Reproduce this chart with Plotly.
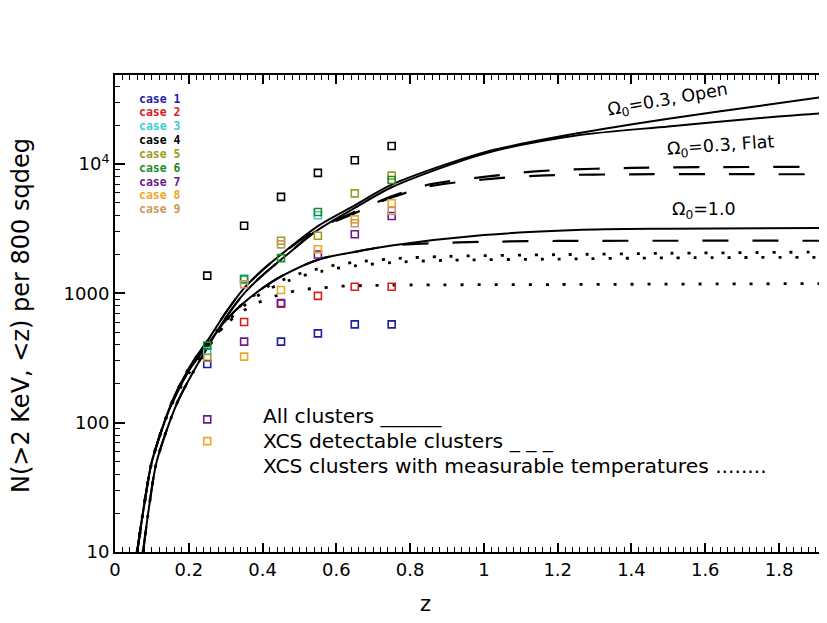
import numpy as np
from plotly import graph_objects as go

# redshift bins of the simulated XCS cases
z_bins = [0.25, 0.35, 0.45, 0.55, 0.65, 0.75]

case_names = ["case 1", "case 2", "case 3", "case 4", "case 5",
              "case 6", "case 7", "case 8", "case 9"]
case_colors = ["#1c1ca8", "#d42020", "#38d0d0", "#000000", "#a09a20",
               "#1e8a2a", "#6a1a8e", "#f0a428", "#c89860"]

case_1 = [284, None, 423, 490, 575, 575]
case_2 = [None, 600, 830, 955, 1125, 1125]
case_3 = [358, 1300, None, 4010, None, None]
case_4 = [1370, 3330, 5570, 8530, 10700, 13780]
case_5 = [318, None, 2550, 2790, 5930, 8130]
case_6 = [394, 1280, 1870, 4250, None, 7520]
case_7 = [106, 423, 841, 1995, 2860, 3960]
case_8 = [72, 324, 1060, 2190, 3730, 4970]
case_9 = [None, 1175, 2390, None, 3480, 4330]
cases = [case_1, case_2, case_3, case_4, case_5, case_6, case_7, case_8, case_9]

# all clusters (solid)
z_all_open = [0.06, 0.08, 0.1, 0.15, 0.2, 0.25, 0.3, 0.35, 0.4, 0.45, 0.55, 0.65, 0.75, 1.0, 1.25, 1.5, 1.75, 1.95]
n_all_open = [10, 24, 50, 135, 263, 427, 708, 1096, 1514, 1995, 3310, 4790, 6920, 12300, 17200, 22400, 28200, 33900]
z_all_flat = [0.076, 0.09, 0.113, 0.165, 0.2, 0.25, 0.3, 0.35, 0.4, 0.45, 0.55, 0.65, 0.75, 1.0, 1.25, 1.5, 1.75, 1.95]
n_all_flat = [10, 20, 50, 135, 214, 380, 646, 1000, 1380, 1820, 3090, 4570, 6610, 12000, 16600, 19500, 22700, 25100]
z_all_ein = [0.06, 0.08, 0.1, 0.15, 0.2, 0.25, 0.3, 0.35, 0.4, 0.45, 0.55, 0.65, 0.75, 1.0, 1.25, 1.5, 1.95]
n_all_ein = [10, 24, 50, 132, 251, 398, 617, 851, 1096, 1350, 1820, 2090, 2340, 2820, 3090, 3160, 3200]

# XCS detectable clusters (dashed)
z_det_open = [0.06, 0.08, 0.1, 0.15, 0.2, 0.25, 0.3, 0.35, 0.4, 0.45, 0.55, 0.65, 0.75, 0.85, 1.0, 1.15, 1.4, 1.95]
n_det_open = [10, 24, 50, 135, 263, 427, 708, 1096, 1514, 1995, 3160, 4270, 5620, 6920, 7940, 8810, 9330, 9500]
z_det_flat = [0.076, 0.09, 0.113, 0.165, 0.2, 0.25, 0.3, 0.35, 0.4, 0.45, 0.55, 0.65, 0.75, 0.85, 1.0, 1.15, 1.4, 1.95]
n_det_flat = [10, 20, 50, 135, 214, 380, 646, 1000, 1380, 1820, 3100, 4170, 5500, 6700, 7590, 8130, 8320, 8320]
z_det_ein = [0.06, 0.08, 0.1, 0.15, 0.2, 0.25, 0.3, 0.35, 0.4, 0.45, 0.55, 0.65, 0.75, 0.85, 1.0, 1.2, 1.95]
n_det_ein = [10, 24, 50, 132, 251, 398, 617, 851, 1096, 1350, 1820, 2090, 2340, 2430, 2500, 2540, 2550]

# XCS clusters with measurable temperatures (dotted)
z_tem_open = [0.06, 0.08, 0.1, 0.15, 0.2, 0.25, 0.3, 0.34, 0.38, 0.42, 0.47, 0.51, 0.56, 0.6, 0.65, 0.75, 0.9, 1.2, 1.5, 1.95]
n_tem_open = [10, 24, 50, 135, 263, 420, 610, 800, 980, 1150, 1320, 1450, 1570, 1660, 1740, 1850, 1930, 1990, 2040, 2090]
z_tem_flat = [0.076, 0.09, 0.113, 0.165, 0.2, 0.25, 0.3, 0.34, 0.38, 0.42, 0.47, 0.51, 0.56, 0.6, 0.65, 0.75, 0.9, 1.2, 1.5, 1.95]
n_tem_flat = [10, 20, 50, 135, 214, 370, 580, 760, 930, 1090, 1250, 1370, 1480, 1560, 1630, 1730, 1800, 1840, 1880, 1900]
z_tem_ein = [0.06, 0.08, 0.1, 0.15, 0.2, 0.25, 0.285, 0.325, 0.37, 0.415, 0.46, 0.51, 0.56, 0.6, 0.7, 0.8, 1.2, 1.95]
n_tem_ein = [10, 24, 50, 130, 240, 390, 520, 660, 800, 912, 1000, 1070, 1100, 1130, 1150, 1160, 1170, 1190]

text_font = "DejaVu Sans"

# the page body adds an 8 px margin, so the figure starts at (8, 8) in the window
OFF = 8
W, H = 827 - OFF, 623 - OFF
# plot frame in window pixels
X0, X1, YTOP, YBOT = 115, 827, 75, 552


def px(x):
    return (x - X0) / (X1 - X0)


def py(y):
    return (YBOT - y) / (YBOT - YTOP)


fig = go.Figure()

curves = [
    (z_all_open, n_all_open, "solid", 2),
    (z_all_flat, n_all_flat, "solid", 2),
    (z_all_ein, n_all_ein, "solid", 2),
    (z_det_open, n_det_open, "26px,24px", 2.2),
    (z_det_flat, n_det_flat, "26px,24px", 2.2),
    (z_det_ein, n_det_ein, "26px,24px", 2.2),
    (z_tem_open, n_tem_open, "3px,14px", 2.8),
    (z_tem_flat, n_tem_flat, "3px,14px", 2.8),
    (z_tem_ein, n_tem_ein, "3px,14px", 2.8),
]
for zz, nn, dash, w in curves:
    fig.add_trace(go.Scatter(
        x=zz, y=nn, mode="lines",
        line=dict(color="black", width=w, dash=dash, shape="spline", smoothing=0.8),
        showlegend=False, hoverinfo="skip",
    ))

for name, color, vals in zip(case_names, case_colors, cases):
    fig.add_trace(go.Scatter(
        x=z_bins, y=vals, mode="markers", name=name,
        marker=dict(symbol="square-open", size=7, color=color, line=dict(width=1.6, color=color)),
        showlegend=False,
    ))

annotations = []
# colored case list, top left
for i, (name, color) in enumerate(zip(case_names, case_colors)):
    annotations.append(dict(
        x=px(137), y=py(98.5 + 13.85 * i), xref="paper", yref="paper",
        text="<b>" + name + "</b>", showarrow=False, xanchor="left", yanchor="middle",
        font=dict(family="DejaVu Sans Mono", size=11.5, color=color),
    ))

key_lines = [
    ("All clusters ______", 416),
    ("XCS detectable clusters _ _ _", 441),
    ("XCS clusters with measurable temperatures ........", 466),
]
for txt, yy in key_lines:
    annotations.append(dict(
        x=px(261), y=py(yy), xref="paper", yref="paper", text=txt, showarrow=False,
        xanchor="left", yanchor="middle", font=dict(family=text_font, size=20.3, color="black"),
    ))

curve_labels = [
    ("Ω<sub>0</sub>=0.3, Open", 668, 100, -10),
    ("Ω<sub>0</sub>=0.3, Flat", 720, 146, -4),
    ("Ω<sub>0</sub>=1.0", 704, 210, 0),
]
for txt, xx, yy, ang in curve_labels:
    annotations.append(dict(
        x=px(xx), y=py(yy), xref="paper", yref="paper", text=txt, showarrow=False,
        xanchor="center", yanchor="middle", textangle=ang,
        font=dict(family=text_font, size=17.5, color="black"),
    ))

annotations.append(dict(
    x=px(21), y=py(316), xref="paper", yref="paper", text="N(>2 KeV, <z) per 800 sqdeg",
    showarrow=False, textangle=-90, xanchor="center", yanchor="middle",
    font=dict(family=text_font, size=24, color="black"),
))
annotations.append(dict(
    x=px(425), y=py(604), xref="paper", yref="paper", text="z", showarrow=False,
    xanchor="center", yanchor="middle", font=dict(family=text_font, size=21, color="black"),
))

minor_y = [m * 10 ** k for k in range(1, 5) for m in range(2, 10)]

fig.update_layout(
    width=W, height=H,
    margin=dict(l=X0 - OFF, r=0, t=YTOP - OFF, b=H - (YBOT - OFF), autoexpand=False),
    paper_bgcolor="white", plot_bgcolor="white",
    annotations=annotations,
    xaxis=dict(
        range=[0, 1.93], dtick=0.2, tick0=0, showgrid=False, zeroline=False,
        showline=True, linecolor="black", linewidth=2, mirror="ticks",
        ticks="inside", ticklen=9, tickwidth=1.5, tickcolor="black",
        minor=dict(dtick=0.02, tick0=0, ticks="inside", ticklen=5, tickwidth=1.2,
                   tickcolor="black", showgrid=False),
        tickfont=dict(family=text_font, size=18, color="black"),
    ),
    yaxis=dict(
        type="log", range=[1, 4.688], showgrid=False, zeroline=False,
        showline=True, linecolor="black", linewidth=2,
        tickvals=[10, 100, 1000, 10000], ticktext=["10", "100", "1000", "10<sup>4</sup>"],
        ticks="inside", ticklen=10, tickwidth=1.5, tickcolor="black",
        minor=dict(tickvals=minor_y, ticks="inside", ticklen=5, tickwidth=1.2,
                   tickcolor="black", showgrid=False),
        tickfont=dict(family=text_font, size=18, color="black"),
    ),
)

fig.write_html("out.html")
